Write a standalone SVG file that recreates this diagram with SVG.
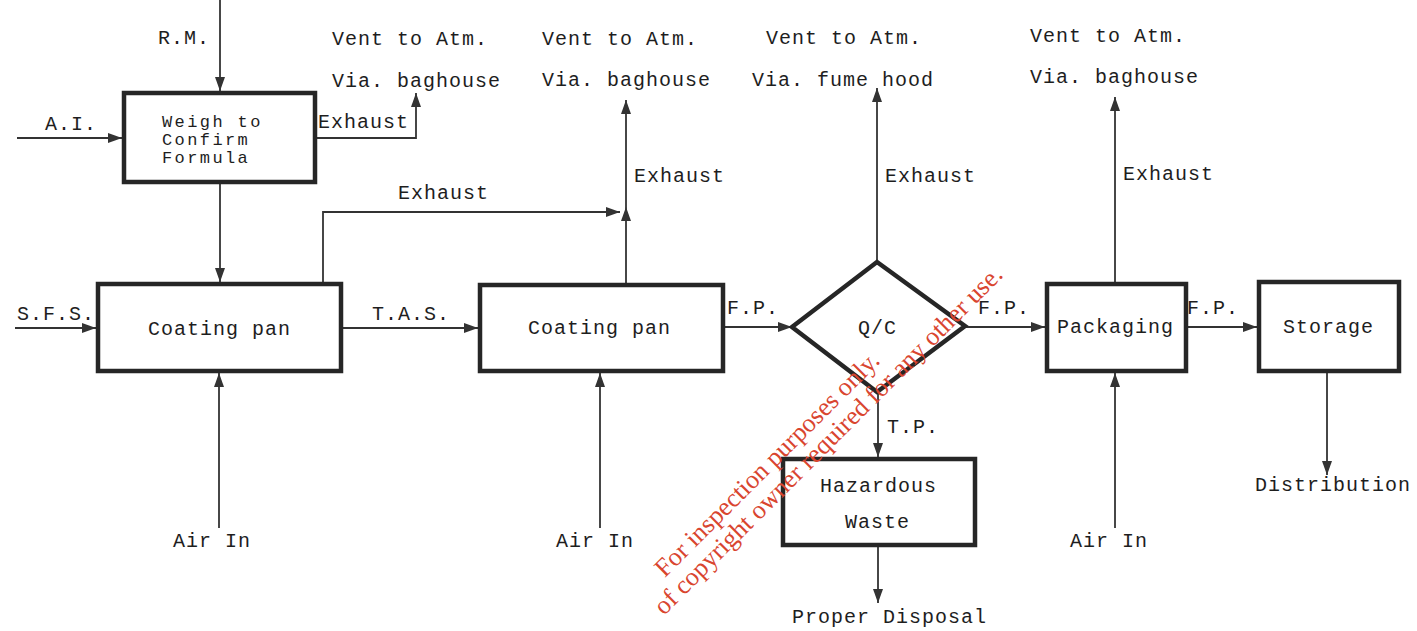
<svg xmlns="http://www.w3.org/2000/svg" width="1417" height="631" viewBox="0 0 1417 631">
<style>
.bg{fill:#ffffff}
.box{fill:#ffffff;stroke:#262626;stroke-width:4.5}
.t{font-family:"Liberation Mono","DejaVu Sans Mono",monospace;font-size:20px;letter-spacing:1px;fill:#1e1e1e}
.s{font-size:17px;letter-spacing:2.4px}
.c{fill:none;stroke:#333333;stroke-width:1.8}
.wm{font-family:"Liberation Serif","DejaVu Serif",serif;font-size:26px;fill:#d9452f}
</style>
<defs>
<marker id="ah" viewBox="0 0 14 10" refX="14" refY="5" markerWidth="14" markerHeight="10" orient="auto" markerUnits="userSpaceOnUse">
<path d="M0,0 L14,5 L0,10 Z" fill="#333333"/>
</marker>
</defs>
<rect class="bg" x="0" y="0" width="1417" height="631"/>

<g id="connectors">
<path class="c" d="M220,0 V91" marker-end="url(#ah)"/>
<path class="c" d="M17,138 H122" marker-end="url(#ah)"/>
<path class="c" d="M317,138 H416 V93" marker-end="url(#ah)"/>
<path class="c" d="M220,184 V282" marker-end="url(#ah)"/>
<path class="c" d="M15,328 H96" marker-end="url(#ah)"/>
<path class="c" d="M323,282 V212 H620" marker-end="url(#ah)"/>
<path class="c" d="M343,328 H478" marker-end="url(#ah)"/>
<path class="c" d="M626,283 V207" marker-end="url(#ah)"/>
<path class="c" d="M626,207 V100" marker-end="url(#ah)"/>
<path class="c" d="M725,327 H792" marker-end="url(#ah)"/>
<path class="c" d="M877,262 V88" marker-end="url(#ah)"/>
<path class="c" d="M878,392 V457" marker-end="url(#ah)"/>
<path class="c" d="M878,547 V603" marker-end="url(#ah)"/>
<path class="c" d="M965,327 H1045" marker-end="url(#ah)"/>
<path class="c" d="M1115,282 V97" marker-end="url(#ah)"/>
<path class="c" d="M1188,327 H1257" marker-end="url(#ah)"/>
<path class="c" d="M1327,373 V475" marker-end="url(#ah)"/>
<path class="c" d="M219,528 V373" marker-end="url(#ah)"/>
<path class="c" d="M600,528 V373" marker-end="url(#ah)"/>
<path class="c" d="M1115,528 V373" marker-end="url(#ah)"/>
</g>

<g id="labels">
<text class="t" x="158" y="44">R.M.</text>
<text class="t" x="332" y="45">Vent to Atm.</text>
<text class="t" x="332" y="87">Via. baghouse</text>
<text class="t" x="45" y="130">A.I.</text>
<text class="t" x="318" y="128">Exhaust</text>
<text class="t" x="398" y="199">Exhaust</text>
<text class="t" x="17" y="320">S.F.S.</text>
<text class="t" x="372" y="320">T.A.S.</text>
<text class="t" x="542" y="45">Vent to Atm.</text>
<text class="t" x="542" y="86">Via. baghouse</text>
<text class="t" x="634" y="182">Exhaust</text>
<text class="t" x="727" y="314">F.P.</text>
<text class="t" x="766" y="44">Vent to Atm.</text>
<text class="t" x="752" y="86">Via. fume hood</text>
<text class="t" x="885" y="182">Exhaust</text>
<text class="t" x="978" y="314">F.P.</text>
<text class="t" x="1030" y="42">Vent to Atm.</text>
<text class="t" x="1030" y="83">Via. baghouse</text>
<text class="t" x="1123" y="180">Exhaust</text>
<text class="t" x="1187" y="314">F.P.</text>
<text class="t" x="887" y="433">T.P.</text>
<text class="t" x="792" y="623">Proper Disposal</text>
<text class="t" x="1255" y="491">Distribution</text>
<text class="t" x="173" y="547">Air In</text>
<text class="t" x="556" y="547">Air In</text>
<text class="t" x="1070" y="547">Air In</text>
</g>

<g id="weigh">
<rect class="box" x="124" y="93" width="191" height="89"/>
<text class="t s" x="162" y="127">Weigh to</text>
<text class="t s" x="162" y="145">Confirm</text>
<text class="t s" x="162" y="163">Formula</text>
</g>
<g id="coating1">
<rect class="box" x="98" y="284" width="243" height="87"/>
<text class="t" x="148" y="335">Coating pan</text>
</g>
<g id="coating2">
<rect class="box" x="480" y="285" width="243" height="86"/>
<text class="t" x="528" y="334">Coating pan</text>
</g>
<g id="qc">
<polygon class="box" points="792,327 877,262 965,326 877,392"/>
<text class="t" x="858" y="334">Q/C</text>
</g>
<g id="hazardous">
<rect class="box" x="783" y="459" width="192" height="86"/>
<text class="t" x="820" y="492">Hazardous</text>
<text class="t" x="845" y="528">Waste</text>
</g>
<g id="packaging">
<rect class="box" x="1047" y="284" width="139" height="87"/>
<text class="t" x="1057" y="333">Packaging</text>
</g>
<g id="storage">
<rect class="box" x="1259" y="282" width="140" height="89"/>
<text class="t" x="1283" y="333">Storage</text>
</g>

<g id="watermark">
<text class="wm" x="773" y="470" text-anchor="middle" transform="rotate(-45 773 470)">For inspection purposes only.</text>
<text class="wm" x="1004" y="276" text-anchor="end" transform="rotate(-45 1004 276)">of copyright owner required for any other use.</text>
</g>
</svg>
